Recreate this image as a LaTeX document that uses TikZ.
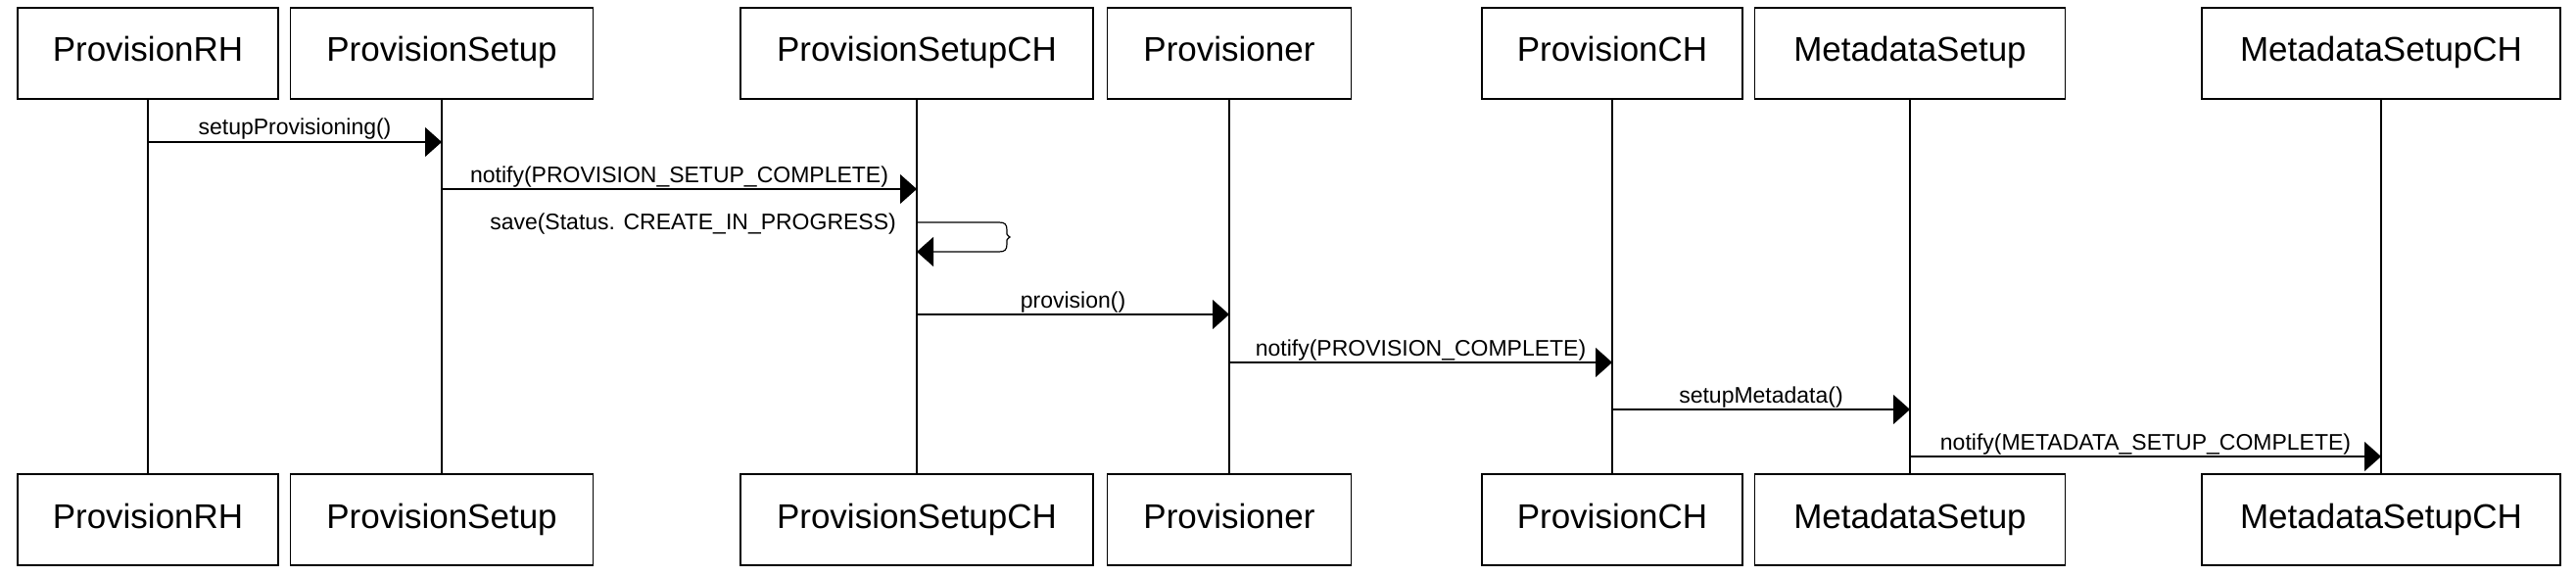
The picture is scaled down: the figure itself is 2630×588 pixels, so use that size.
\documentclass[tikz,border=0pt]{standalone}
\usepackage{fontspec}
\setmainfont{Liberation Sans}
\usetikzlibrary{arrows.meta}

\begin{document}
\begin{tikzpicture}[
        x=1pt, y=-1pt,
        actor/.style={draw, rectangle, line width=1.6pt, minimum height=93pt, inner sep=0pt,
            text height=25pt, text depth=8pt, font=\fontsize{35}{42}\selectfont},
        lifeline/.style={line width=1.2pt},
        msg/.style={line width=1.2pt, -{Triangle[length=17pt, width=30pt]}},
        msglabel/.style={anchor=base, inner sep=0pt, yshift=7pt, font=\fontsize{23}{27}\selectfont}
    ]
    \useasboundingbox (0,0) rectangle (2630,588);
    % participants, top and bottom, with their lifelines
    \foreach \id/\x/\w/\name in {rh/151/266/ProvisionRH, ps/451/309/ProvisionSetup,
            psch/936/360/ProvisionSetupCH, pr/1255/249/Provisioner, pch/1646/266/ProvisionCH,
            ms/1950/317/MetadataSetup, msch/2431/366/MetadataSetupCH} {
        \node[actor, minimum width=\w pt] (\id) at (\x,54.5) {\name};
        \node[actor, minimum width=\w pt] (\id-b) at (\x,530.5) {\name};
        \draw[lifeline] (\id) -- (\id-b);
    }
    % message rows
    \coordinate (m1) at (0,145);
    \coordinate (m2) at (0,193);
    \coordinate (l1) at (0,227);
    \coordinate (l2) at (0,257);
    \coordinate (m3) at (0,321);
    \coordinate (m4) at (0,370);
    \coordinate (m5) at (0,418);
    \coordinate (m6) at (0,466);
    \draw[msg] (rh |- m1) -- (ps |- m1) node[msglabel, midway] (t1) {setupProvisioning()};
    \draw[msg] (ps |- m2) -- (psch |- m2) node[msglabel, midway] (t2) {notify(PROVISION\_SETUP\_COMPLETE)};
    % self call
    \coordinate (lp) at ([xshift=92pt]psch |- l1);
    \draw[msg] (psch |- l1) -- ([xshift=-8pt]lp)
        .. controls ([xshift=-2pt]lp) and ([yshift=-2pt]lp) .. ([yshift=-8pt]lp)
        -- ([yshift=-12pt]lp)
        .. controls ([yshift=-14pt]lp) and ([xshift=3pt, yshift=-14pt]lp) .. ([xshift=3pt, yshift=-15pt]lp)
        .. controls ([xshift=3pt, yshift=-16pt]lp) and ([yshift=-16pt]lp) .. ([yshift=-18pt]lp)
        -- ([yshift=-22pt]lp)
        .. controls ([yshift=-28pt]lp) and ([xshift=-2pt, yshift=-30pt]lp) .. ([xshift=-8pt, yshift=-30pt]lp)
        -- (psch |- l2);
    \node[msglabel, yshift=-7pt, anchor=base east] (tsave) at ([xshift=-21pt, yshift=-7pt]psch |- l1) {save(Status. CREATE\_IN\_PROGRESS)};
    \draw[msg] (psch |- m3) -- (pr |- m3) node[msglabel, midway] (t3) {provision()};
    \draw[msg] (pr |- m4) -- (pch |- m4) node[msglabel, midway] (t4) {notify(PROVISION\_COMPLETE)};
    \draw[msg] (pch |- m5) -- (ms |- m5) node[msglabel, midway] (t5) {setupMetadata()};
    \draw[msg] (ms |- m6) -- (msch |- m6) node[msglabel, midway] (t6) {notify(METADATA\_SETUP\_COMPLETE)};
\end{tikzpicture}
\end{document}
